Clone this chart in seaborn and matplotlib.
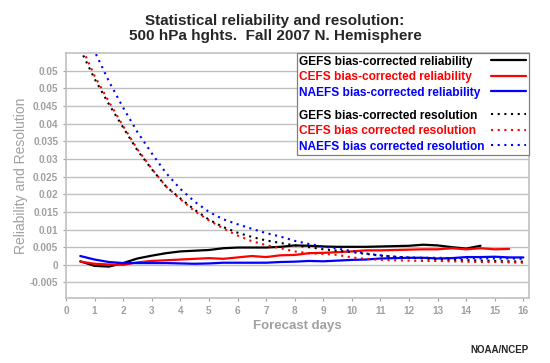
import numpy as np
import pandas as pd
import matplotlib
matplotlib.use("Agg")
import matplotlib.pyplot as plt
import seaborn as sns
from matplotlib.lines import Line2D

days = [0.5, 1.0, 1.5, 2.0, 2.5, 3.0, 3.5, 4.0, 4.5, 5.0, 5.5, 6.0, 6.5, 7.0, 7.5, 8.0,
        8.5, 9.0, 9.5, 10.0, 10.5, 11.0, 11.5, 12.0, 12.5, 13.0, 13.5, 14.0, 14.5, 15.0, 15.5, 16.0]

gefs_rel = [0.0010, -0.0003, -0.0005, 0.0005, 0.0018, 0.0026, 0.0033, 0.0038, 0.0040, 0.0042,
            0.0047, 0.0049, 0.0049, 0.0049, 0.0051, 0.0055, 0.0054, 0.0052, 0.0051, 0.0051,
            0.0051, 0.0052, 0.0053, 0.0054, 0.0057, 0.0055, 0.0050, 0.0046, 0.0054,
            np.nan, np.nan, np.nan]
cefs_rel = [0.0009, 0.0003, 0.0001, 0.0000, 0.0007, 0.0011, 0.0013, 0.0015, 0.0017, 0.0019,
            0.0017, 0.0021, 0.0025, 0.0022, 0.0027, 0.0028, 0.0033, 0.0034, 0.0036, 0.0038,
            0.0041, 0.0041, 0.0042, 0.0043, 0.0044, 0.0044, 0.0047, 0.0044, 0.0047, 0.0044,
            0.0045, np.nan]
naefs_rel = [0.0025, 0.0015, 0.0008, 0.0005, 0.0005, 0.0005, 0.0005, 0.0004, 0.0003, 0.0004,
             0.0006, 0.0006, 0.0006, 0.0006, 0.0008, 0.0009, 0.0011, 0.0010, 0.0012, 0.0014,
             0.0015, 0.0018, 0.0019, 0.0020, 0.0020, 0.0018, 0.0019, 0.0022, 0.0022, 0.0023,
             0.0021, 0.0021]

gefs_res = [0.0610, 0.0527, 0.0455, 0.0389, 0.0324, 0.0271, 0.0222, 0.0188, 0.0156, 0.0128,
            0.0107, 0.0091, 0.0079, 0.0069, 0.0062, 0.0055, 0.0050, 0.0044, 0.0040, 0.0036,
            0.0031, 0.0026, 0.0023, 0.0020, 0.0018, 0.0016, 0.0014, 0.0013, 0.0012, 0.0011,
            0.0010, 0.0009]
cefs_res = [0.0625, 0.0535, 0.0462, 0.0393, 0.0327, 0.0272, 0.0222, 0.0186, 0.0152, 0.0126,
            0.0103, 0.0083, 0.0067, 0.0056, 0.0047, 0.0038, 0.0033, 0.0031, 0.0028, 0.0021,
            0.0017, 0.0014, 0.0013, 0.0012, 0.0011, 0.0011, 0.0010, 0.0009, 0.0008, 0.0008,
            0.0007, 0.0006]
naefs_res = [0.0680, 0.0605, 0.0520, 0.0445, 0.0376, 0.0316, 0.0260, 0.0215, 0.0179, 0.0150,
             0.0129, 0.0115, 0.0102, 0.0090, 0.0080, 0.0068, 0.0059, 0.0052, 0.0046, 0.0039,
             0.0032, 0.0027, 0.0023, 0.0021, 0.0020, 0.0020, 0.0019, 0.0019, 0.0018, 0.0018,
             0.0018, 0.0017]

labels = ["GEFS bias-corrected reliability", "CEFS bias-corrected reliability",
          "NAEFS bias-corrected reliability", "GEFS bias-corrected resolution",
          "CEFS bias corrected resolution", "NAEFS bias corrected resolution"]
yticks = [-0.005, 0, 0.005, 0.01, 0.015, 0.02, 0.025, 0.03, 0.035, 0.04, 0.045, 0.05, 0.055]
ytick_labels = ["-0.005", "0", "0.005", "0.01", "0.015", "0.02", "0.025", "0.03", "0.035",
                "0.04", "0.045", "0.05", "0.05"]

sns.set_style("white")
plt.rcParams["font.family"] = ["Liberation Sans", "DejaVu Sans"]

df = pd.DataFrame({"days": days, "gefs_rel": gefs_rel, "cefs_rel": cefs_rel,
                   "naefs_rel": naefs_rel, "gefs_res": gefs_res, "cefs_res": cefs_res,
                   "naefs_res": naefs_res})

fig = plt.figure(figsize=(5.5, 3.63), dpi=100)
ax = fig.add_axes([0.12, 0.179, 0.842, 0.675])

grey = "#c0c0c0"
ax.set_axisbelow(True)
ax.yaxis.grid(True, color=grey, linewidth=1)

dot = (0, (1, 2.2))
series = [("gefs_rel", "black", "-"), ("cefs_rel", "red", "-"), ("naefs_rel", "blue", "-"),
          ("gefs_res", "black", dot), ("cefs_res", "red", dot), ("naefs_res", "blue", dot)]
for col, c, ls in series:
    d = df[["days", col]].dropna()
    lw = 1.6 if ls == "-" else 1.5
    sns.lineplot(x=d["days"], y=d[col], color=c, linestyle=ls, linewidth=lw, ax=ax)

ax.set_xlim(0, 16.2)
ax.set_ylim(-0.0094, 0.06)
ax.set_xticks(range(0, 17))
ax.set_yticks(yticks)
ax.set_yticklabels(ytick_labels)
ax.tick_params(axis="both", colors="#a0a0a0", labelsize=7.2, length=2.5, width=0.8,
               direction="out", pad=3, left=True, bottom=True)
for t in ax.get_xticklabels() + ax.get_yticklabels():
    t.set_fontweight("bold")
for s in ax.spines.values():
    s.set_color(grey)
    s.set_linewidth(1.2)

ax.set_xlabel("Forecast days", color="#a0a0a0", fontsize=9.5, fontweight="bold", labelpad=3)
ax.set_ylabel("Reliability and Resolution", color="#a0a0a0", fontsize=10, labelpad=1)

handles = [Line2D([], [], color="black", lw=1.6),
           Line2D([], [], color="red", lw=1.6),
           Line2D([], [], color="blue", lw=1.6),
           Line2D([], [], color="none"),
           Line2D([], [], color="black", lw=1.5, linestyle=dot),
           Line2D([], [], color="red", lw=1.5, linestyle=dot),
           Line2D([], [], color="blue", lw=1.5, linestyle=dot)]
leg_labels = labels[:3] + [""] + labels[3:]
leg = ax.legend(handles, leg_labels, loc="upper right", borderaxespad=0, fancybox=False,
                edgecolor="#808080", framealpha=1, markerfirst=False, handlelength=3.0,
                labelspacing=0.29, borderpad=0.22, handletextpad=0.5,
                prop={"size": 8.6, "weight": "bold"})
leg.get_frame().set_linewidth(0.9)
text_colors = ["black", "red", "blue", "black", "black", "red", "blue"]
for t, c in zip(leg.get_texts(), text_colors):
    t.set_color(c)
leg.get_texts()[3].set_fontsize(1)

# left-align legend texts while keeping the line samples on the right
fig.canvas.draw()
r = fig.canvas.get_renderer()
column = leg._legend_handle_box.get_children()[0]
rows = column.get_children()
rows[3].get_children()[1].height = 3
w = max(row.get_bbox(r).width for row in rows)
for row in rows:
    row.mode = "expand"
column.width = w
column.align = "left"

fig.text(0.5, 0.962, "Statistical reliability and resolution:\n500 hPa hghts.  Fall 2007 N. Hemisphere",
         ha="center", va="top", fontsize=11, fontweight="bold", linespacing=1.1)
fig.text(0.962, 0.022, "NOAA/NCEP", ha="right", va="bottom", fontsize=7, fontweight="bold")

fig.savefig("out.png", dpi=100)
